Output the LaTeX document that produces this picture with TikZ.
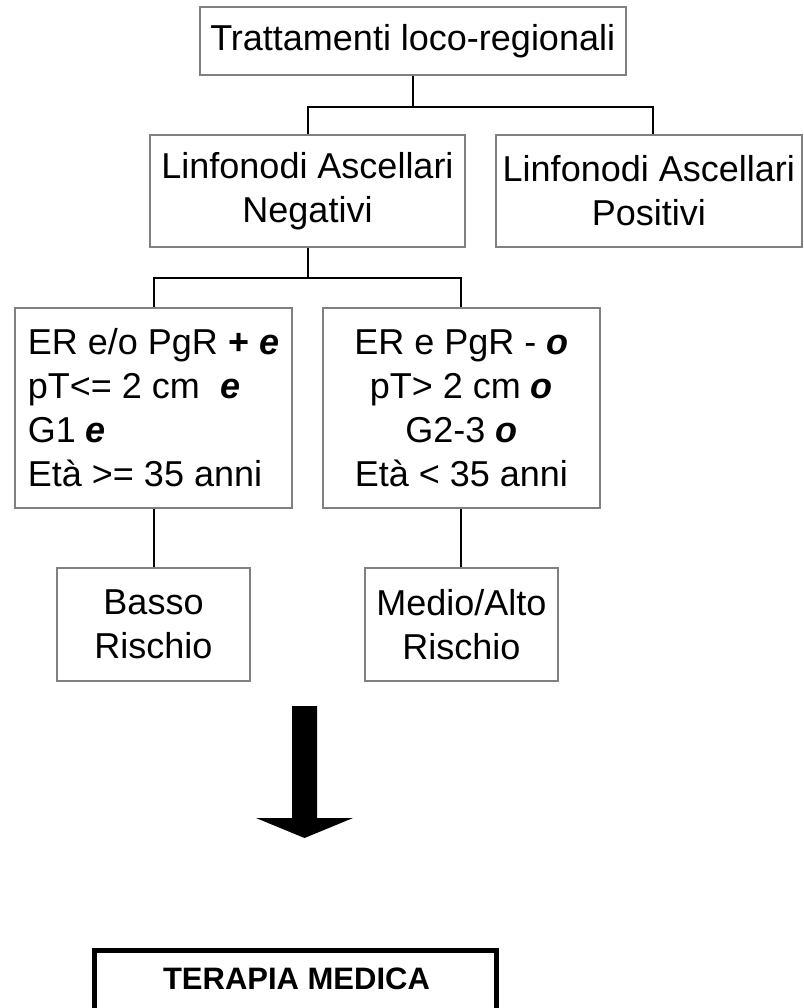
\documentclass[tikz,border=0pt]{standalone}
\usepackage{fontspec}
\setmainfont{Liberation Sans}
\definecolor{boxgray}{HTML}{808080}
\begin{document}
\begin{tikzpicture}[x=1pt,y=-1pt,
  box/.style={draw=boxgray, line width=2pt, inner sep=0pt, align=center,
    font=\fontsize{36}{44}\selectfont},
  conn/.style={draw=black, line width=2pt},
  tbox/.style={draw=black, line width=5pt, inner sep=0pt},
  bi/.style={}]
\useasboundingbox (0,0) rectangle (803,1008);
\newcommand{\bie}[1]{\textbf{\textit{#1}}}
% nodes
\node[box, minimum width=426, minimum height=68] (top) at (412.7,41) {Trattamenti loco-regionali};
\node[box, minimum width=315, minimum height=112] (neg) at (307.5,191) {Linfonodi Ascellari\\Negativi};
\node[box, minimum width=306.4, minimum height=112] (pos) at (648.8,191) {Linfonodi Ascellari\\Positivi};
\node[box, align=left, minimum width=276.6, minimum height=200] (crit1) at (153.5,407.8)
  {ER e/o PgR \textbf{+} \bie{e}\\pT<= 2 cm \ \bie{e}\\G1 \bie{e}\\Età >= 35 anni};
\node[box, minimum width=277.4, minimum height=200] (crit2) at (461.4,407.8)
  {ER e PgR - \bie{o}\\pT> 2 cm \bie{o}\\G2-3 \bie{o}\\Età < 35 anni};
\node[box, minimum width=193.7, minimum height=113] (basso) at (153.5,624.5) {Basso\\Rischio};
\node[box, minimum width=193, minimum height=113] (medio) at (461.4,624.5) {Medio/Alto\\Rischio};
\node[tbox, anchor=north, minimum width=401.8, minimum height=75] (terapia) at (295.6,947.5) {};
\node[inner sep=0pt, font=\fontsize{31}{36}\selectfont\bfseries] (terlabel) at (296.5,978.7) {TERAPIA MEDICA};
% connectors
\draw[conn] (top.south) -- ++(0,31) coordinate (j1);
\draw[conn] (neg.north) |- (j1) -| ([xshift=4.5pt]pos.north);
\draw[conn] (neg.south) -- ++(0,29.7) coordinate (j2);
\draw[conn] (crit1.north) |- (j2) -| (crit2.north);
\draw[conn] (crit1.south) -- (basso.north);
\draw[conn] (crit2.south) -- (medio.north);
% block arrow
\fill[black] (292,706) -- (317,706) -- (317,818) -- (353,818) -- (304.5,838)
  -- (256,818) -- (292,818) -- cycle;
\end{tikzpicture}
\end{document}
